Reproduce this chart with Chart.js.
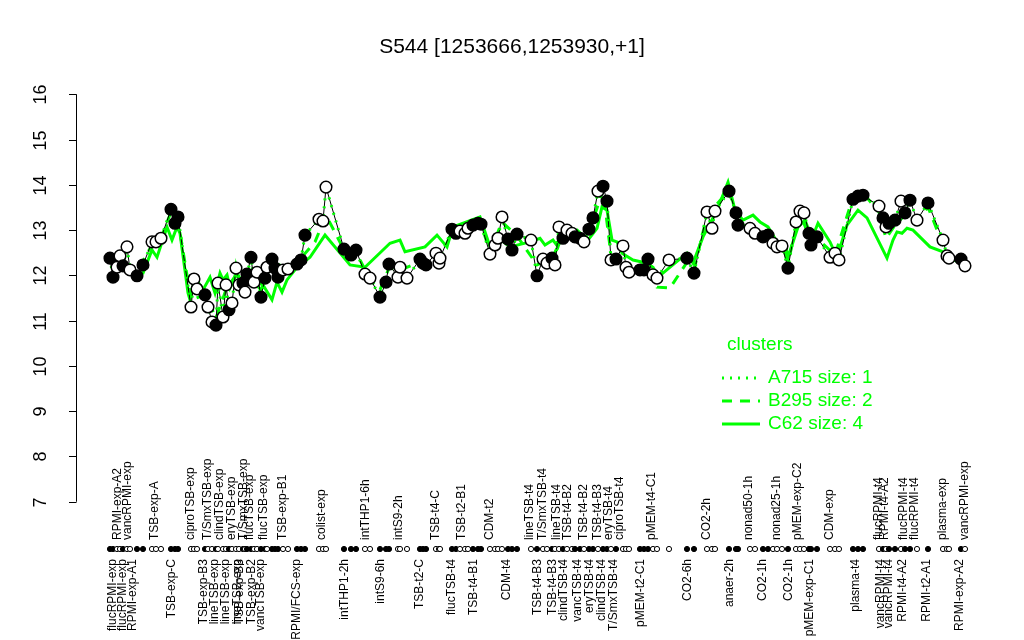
<!DOCTYPE html>
<html>
<head>
<meta charset="utf-8">
<script src="https://cdn.jsdelivr.net/npm/chart.js@4.4.1/dist/chart.umd.min.js"></script>
<style>
  html, body { margin: 0; padding: 0; background: #fff; }
  #wrap { width: 1024px; height: 640px; }
</style>
</head>
<body>
<div id="wrap"><canvas id="chart" width="1024" height="640"></canvas></div>
<script>
// ---------- data ----------
const titleText = 'S544 [1253666,1253930,+1]';
const yTicks = [7, 8, 9, 10, 11, 12, 13, 14, 15, 16];

// sample positions along x (one per measured condition)
const samplePos = [
  0,0.6,1.4,2,2.6,3.4,4,5.4,6.6,8.4,9.2,10.2,12.2,13,13.6,
  16.2,16.8,17.4,19,19.6,20.4,21.2,21.6,22.6,23.2,23.8,24.4,25.2,25.8,26.6,
  27,27.4,28.2,28.8,29.4,30.2,31,31.4,32.4,33,33.6,34.6,35.6,37.4,38.2,
  39,41.8,42.6,43.2,46.8,48.2,49.2,51,52,54,55.2,55.8,57.6,58,59.4,
  62,62.6,63.2,65.2,65.8,66,68.4,69.2,70,71,71.6,72.6,73.6,74.2,76,
  77,77.6,78.4,79.6,80.4,81.4,84.2,85.4,86.6,87.4,88.4,89,89.8,90.6,91.4,
  92.4,93,94,94.8,95.8,96.6,97.6,98.6,99.4,100.2,101.2,102.6,103.2,103.8,106,
  106.8,107.6,108.6,109.4,111.8,115.4,116.8,119.4,120.4,121,123.8,125.2,125.6,128,129,
  130.6,131.6,132.6,133.4,134.4,135.6,137.2,138,138.8,139.8,140.2,141.4,144,145,145.8,
  148.6,149.6,150.6,153.8,154.6,155.2,155.8,157,158.2,159,160,161.4,163.6,166.6,167.4,
  167.8,170.2,171
];
const sampleVals = [
  12.38,11.96,12.18,12.43,12.21,12.63,12.12,11.99,12.23,12.74,12.74,12.82,13.46,13.15,13.29,
  11.30,11.92,11.70,11.57,11.30,10.97,10.90,11.83,11.08,11.79,11.24,11.39,12.16,11.79,11.83,
  11.63,12.03,12.40,11.85,12.07,11.52,11.94,12.18,12.36,12.16,11.96,12.12,12.14,12.25,12.34,
  12.89,13.24,13.20,13.95,12.58,12.45,12.56,12.03,11.94,11.52,11.85,12.25,11.96,12.18,11.94,
  12.36,12.27,12.23,12.49,12.27,12.38,13.02,12.93,12.98,12.93,13.04,13.11,13.15,13.13,12.47,
  12.67,12.82,13.29,12.80,12.56,12.91,12.78,11.99,12.36,12.27,12.38,12.23,13.07,12.82,13.00,
  12.93,12.85,12.82,12.74,13.02,13.27,13.86,13.97,13.64,12.34,12.36,12.65,12.18,12.07,12.12,
  12.12,12.36,12.01,11.94,12.34,12.38,12.05,13.40,13.04,13.42,13.86,13.38,13.11,13.04,12.93,
  12.85,12.89,12.71,12.63,12.65,12.16,13.18,13.42,13.38,12.93,12.67,12.85,12.40,12.49,12.34,
  13.68,13.75,13.77,13.53,13.27,13.07,13.15,13.22,13.64,13.38,13.66,13.22,13.60,12.78,12.43,
  12.38,12.36,12.21
];
// 1 = filled marker, 0 = open marker
const sampleFilled = [
  1,1,0,0,1,0,0,1,1,0,0,0,1,1,1,
  0,0,0,1,0,0,1,0,0,0,1,0,0,0,1,
  0,1,1,0,0,1,1,0,1,1,1,0,0,1,1,
  1,0,0,0,1,1,1,0,0,1,1,1,0,0,0,
  1,1,1,0,0,0,1,1,0,0,0,1,1,1,0,
  0,0,0,1,1,1,0,1,0,0,1,0,0,1,0,
  0,1,1,0,1,1,0,1,1,0,1,0,0,0,1,
  1,1,0,0,0,1,1,0,0,0,1,1,1,0,0,
  1,1,0,0,0,1,0,0,0,1,1,1,0,0,0,
  1,1,1,0,1,0,1,1,0,1,1,0,1,0,0,
  0,1,0
];

// cluster C62 (solid)
const c62Pos = [0,2.6,4.6,6.6,8.4,9.4,11.4,12.4,13.4,14,15.6,16,17,18.6,20,21,22,22.6,23.4,24,
  25.4,27,28.4,29.6,30.6,32.4,33.4,34.4,35.4,37.4,40,43,48,51,56,58,59,63,65.4,67.4,
  68.6,74,76,77.4,80,84,86,87,88.6,89.6,90.6,93.4,95.6,97.4,98.4,99.4,100.4,101.4,102.4,104.6,
  107.4,108.6,109.6,115.4,116.6,118.6,121.4,123.6,125,126.6,128.6,130,131.6,133.4,135,135.6,137.6,139,140.4,141.6,
  144,145.4,147.4,149.6,151.4,155.4,156.6,157.4,158.4,159.4,160.6,164,166.6,168.6,170.6];
const c62Vals = [12.34,12.38,12.01,12.05,12.56,12.40,13.07,12.78,13.07,12.93,11.61,11.46,11.96,11.68,11.96,11.61,12.05,11.90,12.01,11.72,
  12.05,11.74,12.12,11.83,11.79,11.46,11.85,11.63,11.90,12.18,12.40,12.89,12.23,12.18,12.71,12.78,12.52,12.63,12.89,12.63,
  13.07,13.29,12.63,12.85,12.63,12.74,12.82,12.67,12.78,12.63,12.96,13.00,12.78,13.04,13.51,13.44,12.78,12.74,12.49,12.34,
  12.27,12.18,11.96,12.49,12.27,12.85,13.44,14.06,13.44,13.22,13.33,13.18,13.07,12.74,12.71,12.40,13.07,13.22,12.82,13.15,
  12.74,12.40,13.11,13.44,13.27,12.38,12.78,12.96,12.93,13.04,13.00,12.63,12.52,12.34,12.27];

// cluster B295 (dashed)
const b295Pos = [0,2.6,5.4,8.4,10.2,12.2,13.6,16.2,19,21.2,23.2,25.2,27.4,30.2,32.4,35.6,38.2,41,43.2,46.8,
  49.2,52,54,55.8,58,62,66,68.4,74.2,76,78.4,81.4,85.4,88.4,90.6,94.8,96.6,98.6,100.2,103.8,
  107.6,109.4,112,115.4,116.8,119.4,123.8,125.6,129,134.4,135.6,138,140.2,141.4,145,148.6,150.6,153.8,155.2,157,
  159,161.4,163.6,167.4,171];
const b295Vals = [12.29,12.29,12.07,12.67,12.82,13.40,13.22,11.46,11.57,11.06,11.68,12.01,12.01,11.68,12.29,12.16,12.38,12.74,13.33,12.56,
  12.52,11.90,11.68,12.16,12.12,12.29,12.38,12.96,13.13,12.52,13.18,12.87,12.23,12.38,12.87,12.78,13.22,13.88,12.45,12.12,
  12.29,11.74,11.72,12.29,12.12,13.33,13.88,13.18,12.96,12.67,12.29,13.38,12.74,12.82,12.45,13.73,13.82,13.40,12.82,13.11,
  13.33,13.18,13.51,12.45,12.27];

// condition labels and where they sit along x
const condLabels = ['flucRPMI-exp','RPMI-exp-A2','flucRPMI-exp','vancRPMI-exp','RPMI-exp-A1','TSB-exp-A','TSB-exp-C','ciproTSB-exp',
  'TSB-exp-B3','T/SmxTSB-exp','lineTSB-exp','clindTSB-exp','lineTSB-exp','eryTSB-exp','lineTSB-exp','T/SmxTSB-exp',
  'TSB-exp-B3','flucTSB-exp','TSB-exp-B2','flucTSB-exp','vancTSB-exp','TSB-exp-B1','RPMI/FCS-exp','colist-exp',
  'intTHP1-2h','intTHP1-6h','intS9-6h','intS9-2h','TSB-t2-C','TSB-t4-C','flucTSB-t4','TSB-t2-B1','TSB-t4-B1','CDM-t2',
  'CDM-t4','lineTSB-t4','TSB-t4-B3','T/SmxTSB-t4','TSB-t4-B3','lineTSB-t4','clindTSB-t4','TSB-t4-B2','vancTSB-t4',
  'TSB-t4-B2','eryTSB-t4','TSB-t4-B3','clindTSB-t4','eryTSB-t4','T/SmxTSB-t4','ciproTSB-t4','pMEM-t2-C1','pMEM-t4-C1',
  'CO2-6h','CO2-2h','anaer-2h','nonad50-1h','CO2-1h','nonad25-1h','CO2-1h','pMEM-exp-C2','pMEM-exp-C1','CDM-exp',
  'plasma-t4','flucRPMI-t4','vancRPMI-t4','RPMI-t4-A2','vancRPMI-t4','flucRPMI-t4','RPMI-t4-A2','flucRPMI-t4',
  'RPMI-t2-A1','plasma-exp','RPMI-exp-A2','vancRPMI-exp'];
const condPos = [0.6,1.6,2.6,3.6,4.6,9,12.4,16.2,18.8,19.6,21,22,23.2,24.4,25.6,26.8,26,28,28.4,30.8,30.2,34.6,37.4,42.4,
  47,51.2,54.2,57.8,62,65.2,68.4,70.4,72.8,76,79.4,84,85.6,86.6,88.6,89.4,90.8,91.6,93.6,94.8,96,97.6,98.4,99.8,100.8,102,
  106.2,108.4,115.6,119.4,124,127.8,130.6,133.4,135.8,137.6,140,144,149.2,153.8,154.2,155,155.8,158.8,158.6,161,163.4,
  166.6,170,171];

const clusterNames = ['A715 size: 1', 'B295 size: 2', 'C62 size: 4'];
const clusterDash = [[2, 6], [10, 8], []];

// ---------- helpers ----------
const GREEN = '#00ff00';
const FONT = '"Liberation Sans", Arial, Helvetica, sans-serif';

function toXY(xs, ys) {
  return xs.map((x, i) => ({ x: x, y: ys[i] }));
}

// axis, rug, labels, legend and title drawn the R way
const rPlotExtras = {
  id: 'rPlotExtras',
  afterDraw(chart) {
    const ctx = chart.ctx;
    const xs = chart.scales.x;
    const ys = chart.scales.y;
    const left = chart.chartArea.left;

    ctx.save();
    ctx.fillStyle = '#000';
    ctx.strokeStyle = '#000';
    ctx.lineWidth = 1;

    // title
    ctx.font = '21px ' + FONT;
    ctx.textAlign = 'center';
    ctx.textBaseline = 'middle';
    ctx.fillText(titleText, 512, 47);

    // y axis
    const yTop = ys.getPixelForValue(yTicks[yTicks.length - 1]);
    const yBot = ys.getPixelForValue(yTicks[0]);
    ctx.beginPath();
    ctx.moveTo(left - 1.5, yTop);
    ctx.lineTo(left - 1.5, yBot);
    ctx.stroke();
    ctx.font = '18px ' + FONT;
    yTicks.forEach(t => {
      const py = Math.round(ys.getPixelForValue(t)) + 0.5;
      ctx.beginPath();
      ctx.moveTo(left - 9, py);
      ctx.lineTo(left - 1.5, py);
      ctx.stroke();
      ctx.save();
      ctx.translate(left - 37, py);
      ctx.rotate(-Math.PI / 2);
      ctx.textAlign = 'center';
      ctx.textBaseline = 'middle';
      ctx.fillText(String(t), 0, 0);
      ctx.restore();
    });

    // rug of samples
    const rugY = 549;
    samplePos.forEach((p, i) => {
      const px = xs.getPixelForValue(p);
      ctx.beginPath();
      ctx.arc(px, rugY, 2.6, 0, Math.PI * 2);
      ctx.fillStyle = sampleFilled[i] ? '#000' : '#fff';
      ctx.fill();
      ctx.stroke();
    });

    // condition labels, alternating below / above the rug
    ctx.fillStyle = '#000';
    ctx.font = '12px ' + FONT;
    condLabels.forEach((lab, i) => {
      const px = xs.getPixelForValue(condPos[i]);
      ctx.save();
      if (i % 2 === 0) {
        ctx.translate(px, 559);
        ctx.rotate(-Math.PI / 2);
        ctx.textAlign = 'right';
      } else {
        ctx.translate(px, 540);
        ctx.rotate(-Math.PI / 2);
        ctx.textAlign = 'left';
      }
      ctx.textBaseline = 'middle';
      ctx.fillText(lab, 0, 0);
      ctx.restore();
    });

    // legend
    ctx.fillStyle = GREEN;
    ctx.strokeStyle = GREEN;
    ctx.font = '19px ' + FONT;
    ctx.textAlign = 'left';
    ctx.textBaseline = 'middle';
    ctx.fillText('clusters', 727, 345);
    clusterNames.forEach((name, i) => {
      const ly = 378 + i * 23;
      ctx.lineWidth = 3;
      ctx.setLineDash(clusterDash[i]);
      ctx.beginPath();
      ctx.moveTo(722, ly);
      ctx.lineTo(760, ly);
      ctx.stroke();
      ctx.setLineDash([]);
      ctx.fillText(name, 768, ly);
    });
    ctx.restore();
  }
};

const samplePoints = toXY(samplePos, sampleVals);

new Chart(document.getElementById('chart'), {
  type: 'scatter',
  data: {
    datasets: [
      {
        label: 'samples',
        data: samplePoints,
        showLine: false,
        pointRadius: 5.8,
        pointBorderWidth: 1.5,
        pointBorderColor: '#000',
        pointBackgroundColor: sampleFilled.map(f => f ? '#000' : '#fff'),
        order: 1
      },
      {
        label: clusterNames[0],
        data: samplePoints,
        showLine: true,
        borderColor: GREEN,
        borderWidth: 3,
        borderDash: clusterDash[0],
        pointRadius: 0,
        order: 2
      },
      {
        label: 'profile',
        data: samplePoints,
        showLine: true,
        borderColor: '#000',
        borderWidth: 1,
        pointRadius: 0,
        order: 3
      },
      {
        label: clusterNames[1],
        data: toXY(b295Pos, b295Vals),
        showLine: true,
        borderColor: GREEN,
        borderWidth: 3,
        borderDash: clusterDash[1],
        pointRadius: 0,
        order: 4
      },
      {
        label: clusterNames[2],
        data: toXY(c62Pos, c62Vals),
        showLine: true,
        borderColor: GREEN,
        borderWidth: 3,
        pointRadius: 0,
        order: 5
      }
    ]
  },
  options: {
    responsive: false,
    animation: false,
    layout: { padding: { left: 78, right: 25, top: 78, bottom: 122 } },
    plugins: {
      legend: { display: false },
      tooltip: { enabled: false },
      title: { display: false }
    },
    scales: {
      x: { type: 'linear', min: -6.4, max: 177.8, display: false },
      y: { type: 'linear', min: 6.64, max: 16.36, display: false }
    }
  },
  plugins: [rPlotExtras]
});
</script>
</body>
</html>
